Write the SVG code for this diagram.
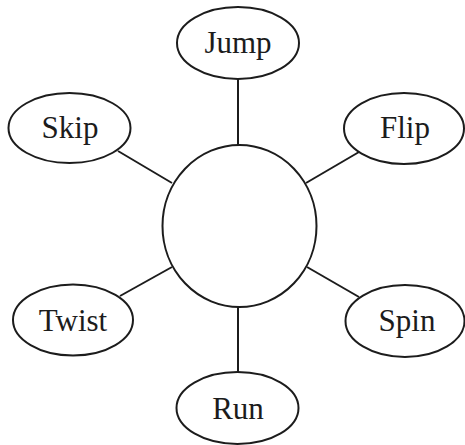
<svg xmlns="http://www.w3.org/2000/svg" width="465" height="445" viewBox="0 0 465 445">
  <style>
    .node { fill: #ffffff; stroke: #1c1c1c; stroke-width: 2; }
    .link { stroke: #1c1c1c; stroke-width: 2; fill: none; }
    .label { font-family: "Liberation Serif", "Times New Roman", serif; font-size: 31px; fill: #1c1c1c; text-anchor: middle; }
  </style>
  <rect width="465" height="445" fill="#ffffff"/>
  <g id="connectors">
    <line class="link" x1="238" y1="79" x2="238" y2="145"/>
    <line class="link" x1="118" y1="151" x2="172" y2="183"/>
    <line class="link" x1="359" y1="152" x2="306" y2="183"/>
    <line class="link" x1="120" y1="296" x2="172" y2="267"/>
    <line class="link" x1="359" y1="297" x2="307" y2="267"/>
    <line class="link" x1="238" y1="306" x2="238" y2="372"/>
  </g>
  <g id="hub">
    <ellipse class="node" cx="239.5" cy="226" rx="77" ry="81"/>
  </g>
  <g id="jump">
    <ellipse class="node" cx="238" cy="43" rx="61" ry="36"/>
    <text class="label" x="238" y="53">Jump</text>
  </g>
  <g id="skip">
    <ellipse class="node" cx="69.5" cy="128" rx="61" ry="35"/>
    <text class="label" x="70" y="138">Skip</text>
  </g>
  <g id="flip">
    <ellipse class="node" cx="404" cy="128.5" rx="60" ry="35.5"/>
    <text class="label" x="405" y="138">Flip</text>
  </g>
  <g id="twist">
    <ellipse class="node" cx="73" cy="320" rx="60" ry="35.5"/>
    <text class="label" x="73" y="331">Twist</text>
  </g>
  <g id="spin">
    <ellipse class="node" cx="405" cy="321" rx="59.5" ry="36"/>
    <text class="label" x="407" y="331">Spin</text>
  </g>
  <g id="run">
    <ellipse class="node" cx="237.5" cy="408" rx="61" ry="36"/>
    <text class="label" x="238" y="419">Run</text>
  </g>
</svg>
